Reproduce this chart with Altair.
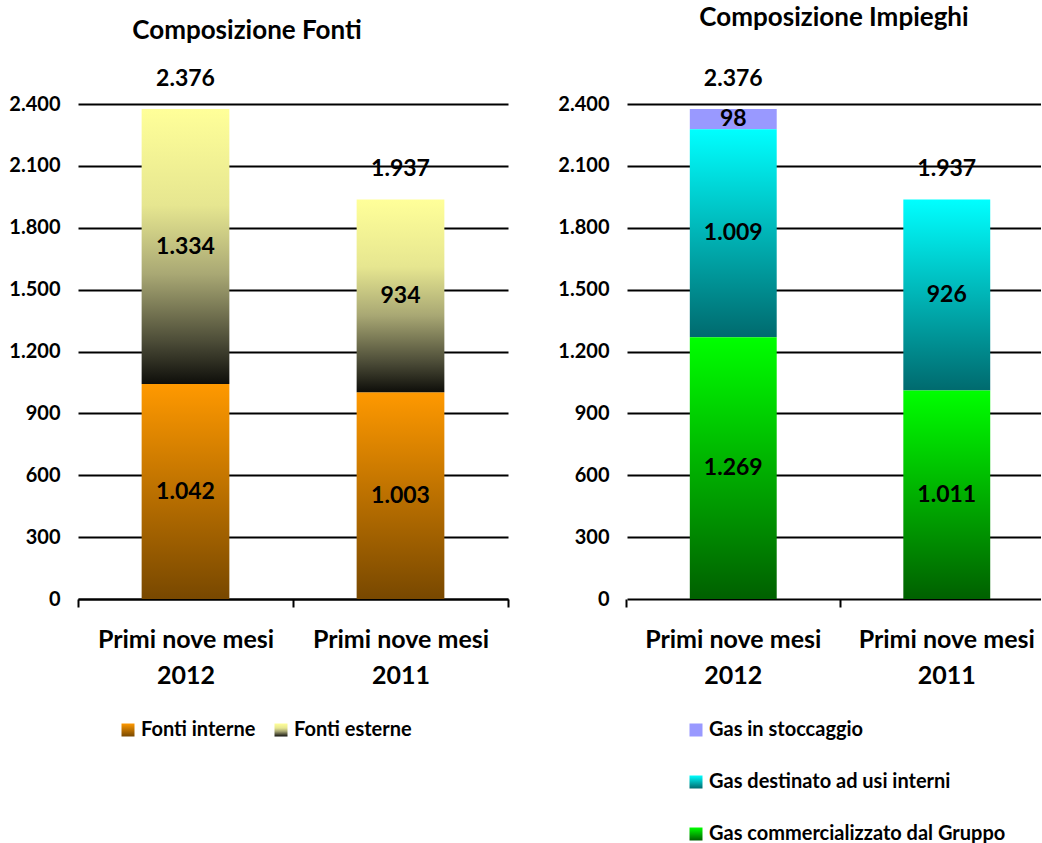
import altair as alt
import pandas as pd

# ---------------- data ----------------
categories = ["Primi nove mesi 2012", "Primi nove mesi 2011"]

fonti_series = ["Fonti interne", "Fonti esterne"]
fonti_interne = [1042, 1003]
fonti_esterne = [1334, 934]
fonti_totali = [2376, 1937]

impieghi_series = ["Gas in stoccaggio", "Gas destinato ad usi interni", "Gas commercializzato dal Gruppo"]
gas_stoccaggio = [98, 0]
gas_destinato = [1009, 926]
gas_commercializzato = [1269, 1011]
impieghi_totali = [2376, 1937]

y_ticks = [0, 300, 600, 900, 1200, 1500, 1800, 2100, 2400]

FONT = "Lato"


def grad(stops):
    s = ",".join("{offset:%s,color:'%s'}" % (o, c) for o, c in stops)
    return {"expr": "{gradient:'linear',x1:0,y1:0,x2:0,y2:1,stops:[" + s + "]}"}


fonti_colors = [
    grad([(0, "#FF9900"), (1, "#784800")]),
    grad([(0, "#FFFF99"), (0.35, "#E6E690"), (0.6, "#A9A874"), (0.85, "#4A4A36"), (1, "#0E0E0A")]),
]
impieghi_colors = [
    "#9999FF",
    grad([(0, "#00FFFF"), (1, "#006A6E")]),
    grad([(0, "#00FF00"), (1, "#006000")]),
]


def long_table(series, values, order):
    rows = []
    for name, vals, o in zip(series, values, order):
        for c, v in zip(categories, vals):
            rows.append({"cat": c, "serie": name, "val": v, "ordine": o})
    return pd.DataFrame(rows)


fonti_df = long_table(fonti_series, [fonti_interne, fonti_esterne], [0, 1])
impieghi_df = long_table(impieghi_series, [gas_stoccaggio, gas_destinato, gas_commercializzato], [2, 1, 0])
fonti_tot_df = pd.DataFrame({"cat": categories, "tot": fonti_totali})
impieghi_tot_df = pd.DataFrame({"cat": categories, "tot": impieghi_totali})

LAB = "replace(format(datum.%s, ','), ',', '.')"


def panel(df, tot_df, domain, rng, title, title_dx, title_offset, width, x_scale, tick_opts,
          bar_kw, legend):
    x_axis = alt.Axis(
        title=None, labelAngle=0, labelFont=FONT, labelFontWeight="bold", labelFontSize=25,
        labelColor="black", labelLineHeight=36, labelPadding=20,
        labelExpr="[substring(datum.label, 0, 15), substring(datum.label, 16)]",
        domainColor="black", domainWidth=2, tickColor="black", tickWidth=2, tickSize=8,
        **tick_opts,
    )
    y_axis = alt.Axis(
        title=None, values=y_ticks, labelExpr="replace(format(datum.value, ','), ',', '.')",
        labelFont=FONT, labelFontWeight="bold", labelFontSize=20, labelColor="black",
        labelPadding=18, domain=False, ticks=False, grid=True, gridColor="black", gridWidth=2,
    )
    x = alt.X("cat:N", sort=categories, scale=x_scale, axis=x_axis)
    yscale = alt.Scale(domain=[0, 2400], nice=False)

    base = (
        alt.Chart(df)
        .transform_filter("datum.val > 0")
        .transform_stack(stack="val", groupby=["cat"], as_=["y0", "y1"],
                         sort=[alt.SortField("ordine", order="ascending")])
        .transform_calculate(mid="(datum.y0 + datum.y1) / 2", lab=LAB % "val")
    )
    bars = base.mark_bar(**bar_kw).encode(
        x=x,
        y=alt.Y("y1:Q", scale=yscale, axis=y_axis),
        y2="y0:Q",
        color=alt.Color("serie:N", scale=alt.Scale(domain=domain, range=rng), legend=legend),
    )
    seg_text = base.mark_text(font=FONT, fontWeight="bold", fontSize=23, color="black",
                              baseline="middle").encode(
        x=alt.X("cat:N", sort=categories),
        y=alt.Y("mid:Q", scale=yscale),
        text="lab:N",
    )
    tot_text = (
        alt.Chart(tot_df)
        .transform_calculate(lab=LAB % "tot")
        .mark_text(font=FONT, fontWeight="bold", fontSize=23, color="black", baseline="middle", dy=-30)
        .encode(x=alt.X("cat:N", sort=categories), y=alt.Y("tot:Q", scale=yscale), text="lab:N")
    )
    return alt.layer(bars, seg_text, tot_text).properties(
        width=width, height=495,
        title=alt.TitleParams(title, font=FONT, fontSize=26, fontWeight="bold", color="black",
                              frame="group", anchor="middle", dx=title_dx, offset=title_offset),
    )


left_legend = alt.Legend(
    title=None, orient="none", legendX=40, legendY=616, direction="horizontal",
    symbolType="square", symbolSize=169, symbolStrokeWidth=0, labelFont=FONT,
    labelFontWeight="bold", labelFontSize=20, labelColor="black", labelOffset=3, columnPadding=15,
    labelLimit=500,
)
right_legend = alt.Legend(
    title=None, orient="none", legendX=59, legendY=616, direction="vertical",
    symbolType="square", symbolSize=169, symbolStrokeWidth=0, labelFont=FONT,
    labelFontWeight="bold", labelFontSize=20, labelColor="black", labelOffset=3, rowPadding=32,
    labelLimit=500,
)

left = panel(
    fonti_df, fonti_tot_df, fonti_series, fonti_colors, "Composizione Fonti", -46, 24, 430,
    alt.Scale(paddingInner=0, paddingOuter=0),
    {"tickBand": "extent"}, {"width": alt.RelativeBandSize(0.408)}, left_legend,
)
right = panel(
    impieghi_df, impieghi_tot_df, impieghi_series, impieghi_colors, "Composizione Impieghi", 0, 37, 414,
    alt.Scale(paddingInner=0.593, paddingOuter=0.266, align=0.553),
    {"bandPosition": -0.7285, "domain": False}, {}, right_legend,
)

chart = (
    alt.hconcat(left, right, spacing=119, bounds="flush")
    .resolve_scale(color="independent", y="independent", x="independent")
    .properties(padding={"left": 8, "top": 4, "right": 0, "bottom": 0}, background="white")
    .configure_view(stroke=None)
)

chart.save("out.html", embed_options={"renderer": "svg", "actions": False})
